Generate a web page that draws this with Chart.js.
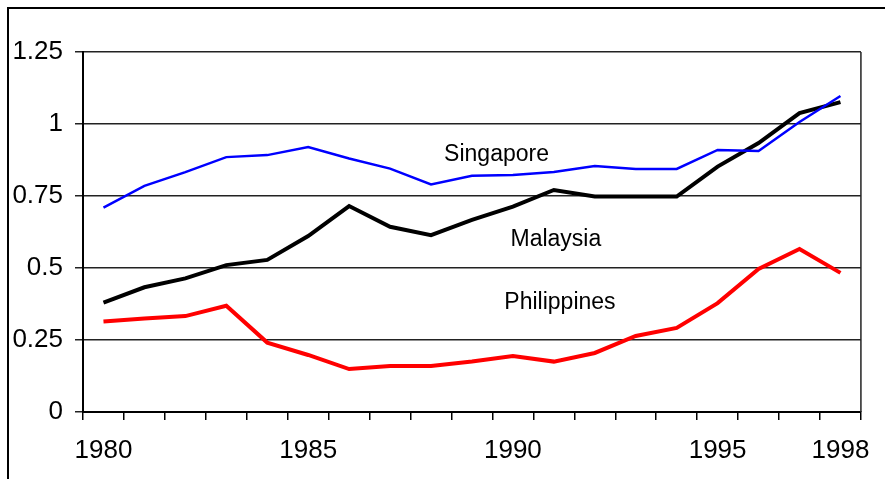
<!DOCTYPE html>
<html>
<head>
<meta charset="utf-8">
<script src="https://cdn.jsdelivr.net/npm/chart.js@4"></script>
<style>
  html, body { margin: 0; padding: 0; background: #fff; }
  #wrap { width: 885px; height: 479px; }
</style>
</head>
<body>
<div id="wrap"><canvas id="myChart" width="885" height="479"></canvas></div>
<script>
const years = ["1980","1981","1982","1983","1984","1985","1986","1987","1988","1989",
  "1990","1991","1992","1993","1994","1995","1996","1997","1998"];
const shownYears = ["1980","1985","1990","1995","1998"];
const singapore = [0.71,0.785,0.833,0.885,0.892,0.92,0.88,0.845,0.79,0.82,
  0.823,0.833,0.854,0.844,0.844,0.91,0.906,1.007,1.097];
const malaysia = [0.38,0.433,0.464,0.51,0.528,0.611,0.715,0.643,0.614,0.667,
  0.713,0.771,0.748,0.748,0.748,0.852,0.934,1.038,1.076];
const philippines = [0.314,0.325,0.333,0.369,0.241,0.198,0.149,0.16,0.16,0.175,
  0.194,0.175,0.205,0.264,0.292,0.378,0.497,0.566,0.483];
const seriesNames = ["Singapore","Malaysia","Philippines"];

const FONT = "'Liberation Sans', Arial, sans-serif";

// frame, right plot border and the series names
const decorations = {
  id: "decorations",
  afterDraw(chart) {
    const { ctx, chartArea } = chart;
    ctx.save();
    ctx.strokeStyle = "#000";
    ctx.lineWidth = 2;
    ctx.beginPath();
    ctx.moveTo(8, 479);
    ctx.lineTo(8, 8);
    ctx.lineTo(885, 8);
    ctx.stroke();

    ctx.strokeStyle = "#222";
    ctx.lineWidth = 1.5;
    ctx.beginPath();
    ctx.moveTo(chartArea.right, chartArea.top);
    ctx.lineTo(chartArea.right, chartArea.bottom);
    ctx.stroke();

    ctx.fillStyle = "#000";
    ctx.font = "23px " + FONT;
    ctx.textAlign = "center";
    ctx.textBaseline = "middle";
    const x = chart.scales.x, y = chart.scales.y;
    ctx.fillText(seriesNames[0], x.getPixelForValue(9.6), y.getPixelForValue(0.895));
    ctx.fillText(seriesNames[1], x.getPixelForValue(11.05), y.getPixelForValue(0.60));
    ctx.fillText(seriesNames[2], x.getPixelForValue(11.15), y.getPixelForValue(0.38));
    ctx.restore();
  }
};

new Chart(document.getElementById("myChart"), {
  type: "line",
  data: {
    labels: years,
    datasets: [
      { label: seriesNames[0], data: singapore, borderColor: "#0000ff", borderWidth: 2.5 },
      { label: seriesNames[1], data: malaysia, borderColor: "#000000", borderWidth: 4 },
      { label: seriesNames[2], data: philippines, borderColor: "#ff0000", borderWidth: 4 }
    ]
  },
  options: {
    responsive: false,
    animation: false,
    events: [],
    layout: { padding: { top: 52, right: 24, left: 0, bottom: 0 } },
    elements: { point: { radius: 0 }, line: { tension: 0 } },
    plugins: { legend: { display: false }, tooltip: { enabled: false } },
    scales: {
      x: {
        offset: true,
        afterFit(scale) { scale.height = 67; },
        grid: { offset: true, drawOnChartArea: false, drawTicks: true, tickLength: 8,
          color: "#000", lineWidth: 1.5 },
        border: { display: true, color: "#000", width: 2 },
        ticks: {
          autoSkip: false, maxRotation: 0, padding: 15, color: "#000",
          font: { family: FONT, size: 26 },
          callback(v, i) { return shownYears.includes(years[i]) ? years[i] : ""; }
        }
      },
      y: {
        min: 0, max: 1.25,
        afterFit(scale) { scale.width = 83; },
        grid: { color: "#222", lineWidth: 1.5, tickLength: 8, drawTicks: true },
        border: { display: true, color: "#000", width: 2 },
        ticks: {
          stepSize: 0.25, padding: 12, color: "#000",
          font: { family: FONT, size: 26 },
          callback(v) { return String(Math.round(v * 100) / 100); }
        }
      }
    }
  },
  plugins: [decorations]
});
</script>
</body>
</html>
